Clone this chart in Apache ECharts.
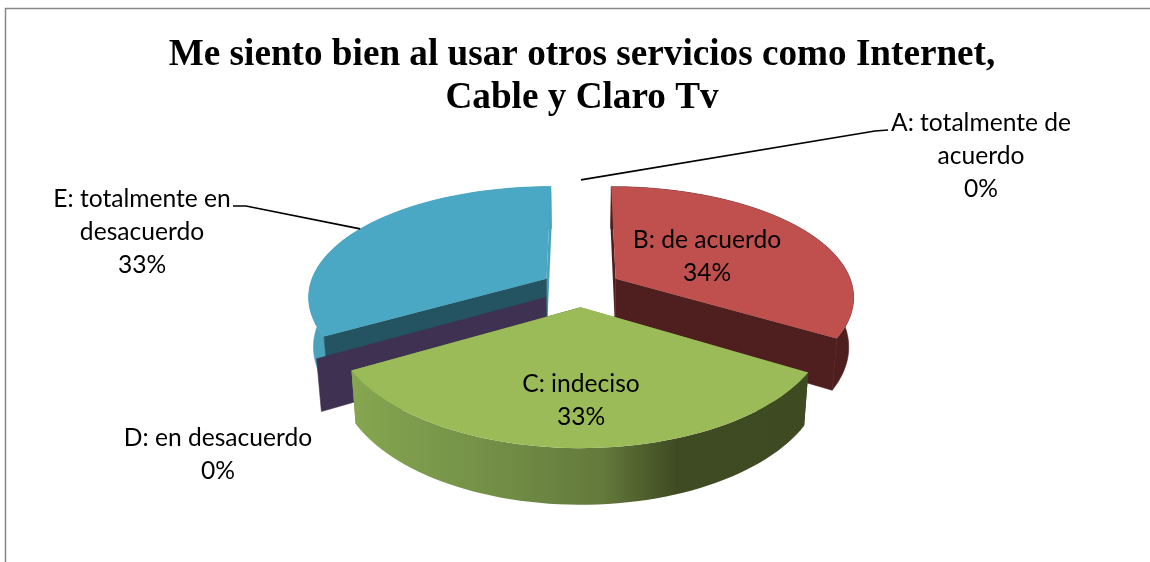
<!DOCTYPE html>
<html><head><meta charset="utf-8">
<script src="https://cdn.jsdelivr.net/npm/echarts@6/dist/echarts.min.js"></script>
<style>html,body{margin:0;padding:0;background:#fff}#c{width:1150px;height:562px}</style>
</head><body><div id="c"></div>
<script>
const titleText = 'Me siento bien al usar otros servicios como Internet,\nCable y Claro Tv';
const categories = ['A: totalmente de\nacuerdo', 'B: de acuerdo', 'C: indeciso', 'D: en desacuerdo', 'E: totalmente en\ndesacuerdo'];
const values = [0, 33.5, 33.25, 0, 33.25];

const topColors  = ['#4f81bd', '#c0504d', '#9bbb59', '#8064a2', '#4aa8c4'];
const cutColors  = ['#2a4365', '#4f1f1f', '#4a5a2a', '#3f3151', '#245461'];
const wallColors = ['#2a4365', '#4f1f1f', null, '#3f3151', '#4aa2bb'];
const zBySlice   = [1, 20, 30, 15, 10];
const labelPos   = [[981, 156], [707, 257], [581, 401], [218, 455], [142, 232]];
const leaderMid  = [[[875, 131], [888, 130]], null, null, null, [[246, 206], [233, 206]]];

const cx = 581, cy = 288, A = 237.5, B = 110.3, kx = 0.15, ky = 0.166, explode = 0.17;
const total = values.reduce((a, b) => a + b, 0);
const rad = d => d * Math.PI / 180;

function project(X, Y) {
  return [cx + A * X / (1 + kx * Y), cy - B * Y / (1 + ky * Y)];
}
function lower(p, Y) {
  return [cx + (p[0] - cx) * 0.982, p[1] + 49 - 6.5 * Y];
}
function sliceAngles(i) {
  const before = values.slice(0, i).reduce((a, b) => a + b, 0);
  return [before / total * 360, (before + values[i]) / total * 360];
}

function renderItem(params, api) {
  const i = params.dataIndex;
  const [a0, a1] = sliceAngles(i);
  const mid = rad((a0 + a1) / 2);
  const ox = explode * Math.sin(mid), oy = explode * Math.cos(mid);
  const rim = [], rimY = [];
  const n = Math.max(1, Math.round((a1 - a0) / 2));
  for (let k = 0; k <= n; k++) {
    const t = rad(a0 + (a1 - a0) * k / n);
    const Y = Math.cos(t) + oy;
    rim.push(project(Math.sin(t) + ox, Y));
    rimY.push(Y);
  }
  const apex = project(ox, oy);
  const apexLow = lower(apex, oy);
  const rimLow = rim.map((p, k) => lower(p, rimY[k]));
  const z = zBySlice[i];
  const kids = [];
  const green = !wallColors[i];
  const wallFill = green ? new echarts.graphic.LinearGradient(0, 0, 1, 0, [
    { offset: 0, color: '#86a650' }, { offset: 0.35, color: '#708c45' },
    { offset: 0.55, color: '#64793c' }, { offset: 0.71, color: '#3f4b22' },
    { offset: 1, color: '#3e4a22' }]) : wallColors[i];
  const poly = (pts, fill, zz, stroke) => ({
    type: 'polygon', z2: zz, shape: { points: pts },
    style: { fill: fill, stroke: stroke || null, lineWidth: stroke ? 0.6 : 0 }
  });
  if (a1 > a0) {
    kids.push(poly(rim.concat(rimLow.slice().reverse()), wallFill, z, green ? null : wallColors[i]));
    kids.push(poly([apex].concat(rim), topColors[i], z + 2));
  }
  // the two cut faces: one facing the viewer is painted over the wall, a hidden one under it
  const startVisible = Math.sin(rad(a0)) < -1e-6;
  const endVisible = Math.sin(rad(a1)) > 1e-6;
  if (startVisible) kids.push(poly([apex, rim[0], rimLow[0], apexLow], cutColors[i], z + 1, cutColors[i]));
  else if (a1 > a0) kids.push(poly([apex, rim[0], rimLow[0], apexLow], wallFill, z - 1));
  const e = rim.length - 1;
  if (endVisible && a1 > a0) kids.push(poly([apex, rim[e], rimLow[e], apexLow], cutColors[i], z + 1, cutColors[i]));
  else if (a1 > a0) kids.push(poly([apex, rim[e], rimLow[e], apexLow], wallFill, z - 1));

  kids.push({
    type: 'text', z2: 100,
    style: {
      text: api.value(1) + '\n' + Math.round(api.value(0) / total * 100) + '%',
      x: labelPos[i][0], y: labelPos[i][1], align: 'center', verticalAlign: 'middle',
      font: '24.6px Lato', lineHeight: 33, fill: '#000'
    }
  });
  if (leaderMid[i]) {
    const t = mid;
    kids.push({
      type: 'polyline', z2: 100,
      shape: { points: [project(Math.sin(t) + ox, Math.cos(t) + oy)].concat(leaderMid[i]) },
      style: { stroke: '#000', lineWidth: 1.7, fill: 'none' }
    });
  }
  return { type: 'group', children: kids };
}

const chart = echarts.init(document.getElementById('c'), null, { renderer: 'canvas' });
chart.setOption({
  animation: false,
  backgroundColor: '#fff',
  title: {
    text: titleText, left: 577, top: 29, textAlign: 'center',
    textStyle: { fontFamily: 'Liberation Serif', fontWeight: 'bold', fontSize: 37.2, lineHeight: 43, color: '#000' }
  },
  graphic: [{ type: 'rect', z: -1, shape: { x: 5.5, y: 8.5, width: 1300, height: 700 }, style: { fill: '#fff', stroke: '#868686', lineWidth: 1.5 } }],
  series: [{
    type: 'custom', coordinateSystem: 'none', renderItem: renderItem,
    data: categories.map((c, i) => [values[i], c])
  }]
});
</script></body></html>
